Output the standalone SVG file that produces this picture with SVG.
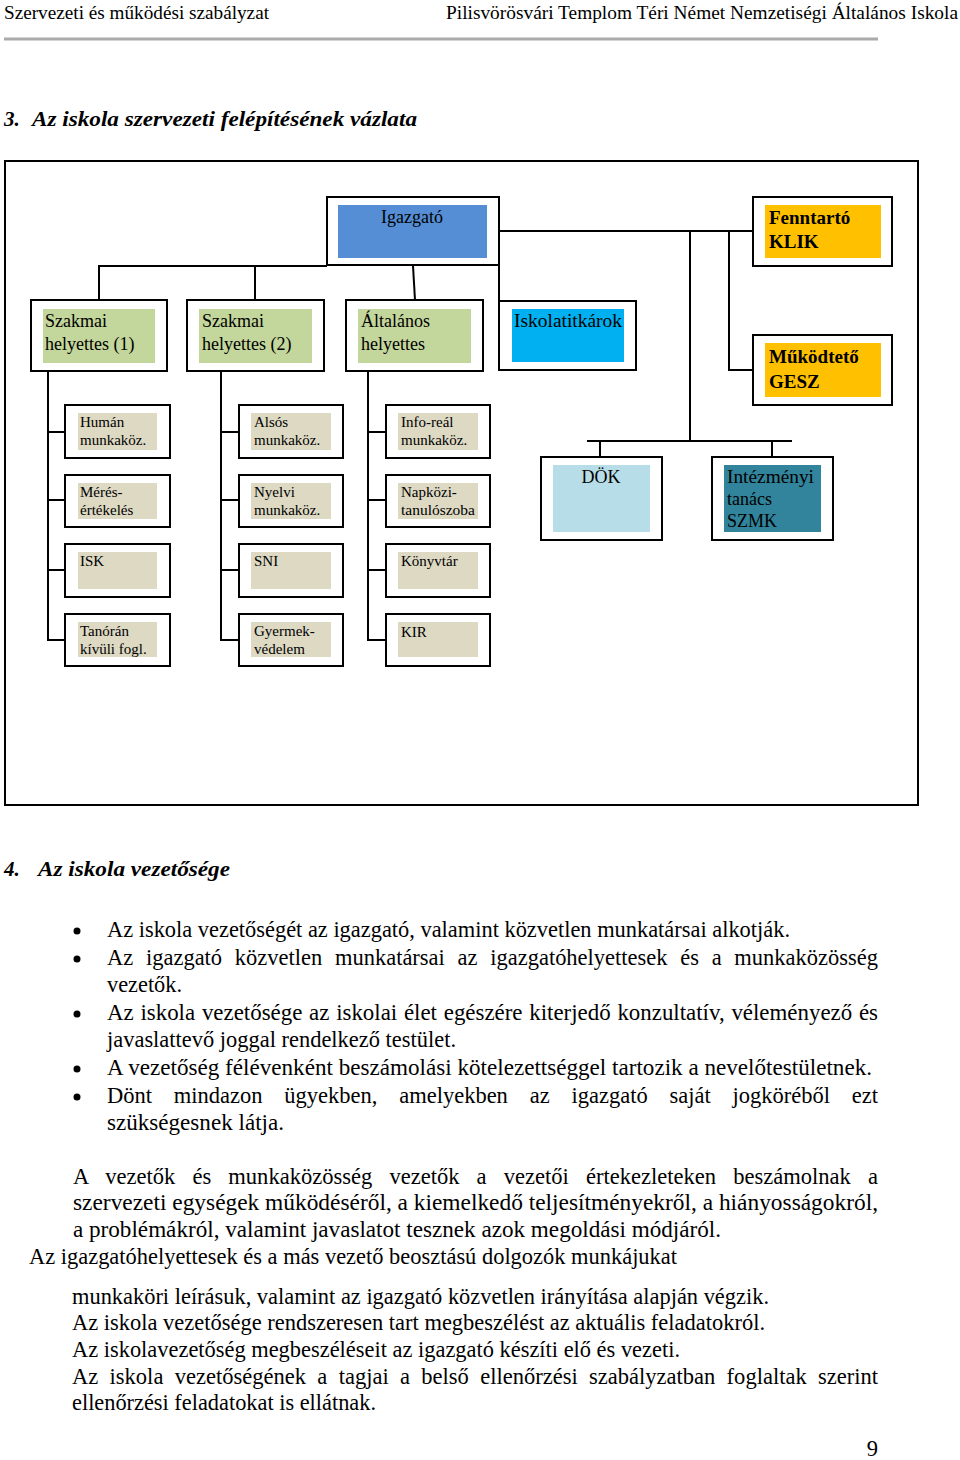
<svg xmlns="http://www.w3.org/2000/svg" width="960" height="1460" viewBox="0 0 960 1460">
<style>
text{font-family:"Liberation Serif","Times New Roman",serif;fill:#000}
.hd{font-size:18px}
.h1{font-size:21px;font-weight:bold;font-style:italic}
.bx{fill:#fff;stroke:#000;stroke-width:2}
.lb{font-size:18px}
.lbb{font-size:19px;font-weight:bold}
.sm{font-size:15px}
.body{font-size:22.5px}
.ln{fill:none;stroke:#000;stroke-width:2}
.sub{fill:#DDD9C3}
.grn{fill:#C3D69B}
.org{fill:#FFC000}
</style>
<rect width="960" height="1460" fill="#fff"/>
<g id="header">
<text class="hd" x="4" y="19" textLength="265" lengthAdjust="spacingAndGlyphs">Szervezeti és működési szabályzat</text>
<text class="hd" x="446" y="19" textLength="512" lengthAdjust="spacingAndGlyphs">Pilisvörösvári Templom Téri Német Nemzetiségi Általános Iskola</text>
<line x1="4" y1="39" x2="878" y2="39" stroke="#AAAAAA" stroke-width="3"/>
</g>
<g id="title3">
<text class="h1" x="4" y="126">3.</text>
<text class="h1" x="32" y="126" textLength="385" lengthAdjust="spacingAndGlyphs">Az iskola szervezeti felépítésének vázlata</text>
</g>
<rect id="frame" x="5" y="161" width="913" height="644" fill="none" stroke="#000" stroke-width="2"/>
<g id="connectors">
<polyline class="ln" points="499,231 753,231"/>
<polyline class="ln" points="690,231 690,441"/>
<polyline class="ln" points="729,231 729,370 753,370"/>
<polyline class="ln" points="587,441 792,441"/>
<polyline class="ln" points="600,441 600,457"/>
<polyline class="ln" points="772,441 772,457"/>
<polyline class="ln" points="99,300 99,266 327,266"/>
<polyline class="ln" points="255,266 255,300"/>
<polyline class="ln" points="413,266 415,300"/>
<polyline class="ln" points="499,265 499,301"/>
<polyline class="ln" points="48,371 48,640 65,640"/>
<polyline class="ln" points="48,432 65,432"/>
<polyline class="ln" points="48,500 65,500"/>
<polyline class="ln" points="48,570 65,570"/>
<polyline class="ln" points="221,371 221,640 239,640"/>
<polyline class="ln" points="221,432 239,432"/>
<polyline class="ln" points="221,500 239,500"/>
<polyline class="ln" points="221,570 239,570"/>
<polyline class="ln" points="368,371 368,640 386,640"/>
<polyline class="ln" points="368,432 386,432"/>
<polyline class="ln" points="368,500 386,500"/>
<polyline class="ln" points="368,570 386,570"/>
</g>
<g id="igazgato">
<rect class="bx" x="327" y="197" width="172" height="68"/>
<rect x="338" y="205" width="149" height="53" fill="#558ED5"/>
<text class="lb" x="412" y="223" text-anchor="middle">Igazgató</text>
</g>
<g id="fenntarto">
<rect class="bx" x="753" y="197" width="139" height="69"/>
<rect class="org" x="765" y="205" width="116" height="53"/>
<text class="lbb" x="769" y="224">Fenntartó</text>
<text class="lbb" x="769" y="248">KLIK</text>
</g>
<g id="mukodteto">
<rect class="bx" x="753" y="335" width="139" height="70"/>
<rect class="org" x="765" y="343" width="116" height="54"/>
<text class="lbb" x="769" y="363">Működtető</text>
<text class="lbb" x="769" y="388">GESZ</text>
</g>
<g id="szakmai1">
<rect class="bx" x="31" y="300" width="136" height="71"/>
<rect class="grn" x="43" y="309" width="112" height="54"/>
<text class="lb" x="45" y="327">Szakmai</text>
<text class="lb" x="45" y="350">helyettes (1)</text>
</g>
<g id="szakmai2">
<rect class="bx" x="187" y="300" width="137" height="71"/>
<rect class="grn" x="199" y="309" width="113" height="54"/>
<text class="lb" x="202" y="327">Szakmai</text>
<text class="lb" x="202" y="350">helyettes (2)</text>
</g>
<g id="altalanos">
<rect class="bx" x="346" y="300" width="137" height="71"/>
<rect class="grn" x="358" y="309" width="113" height="54"/>
<text class="lb" x="361" y="327">Általános</text>
<text class="lb" x="361" y="350">helyettes</text>
</g>
<g id="iskolatitkarok">
<rect class="bx" x="499" y="301" width="137" height="69"/>
<rect x="512" y="309" width="112" height="53" fill="#00B0F0"/>
<text class="lb" x="514" y="327" textLength="108" lengthAdjust="spacingAndGlyphs">Iskolatitkárok</text>
</g>
<g id="human">
<rect class="bx" x="65" y="405" width="105" height="53"/>
<rect class="sub" x="78" y="413" width="79" height="37"/>
<text class="sm" x="80" y="427">Humán</text>
<text class="sm" x="80" y="445">munkaköz.</text>
</g>
<g id="meres">
<rect class="bx" x="65" y="475" width="105" height="52"/>
<rect class="sub" x="78" y="483" width="79" height="36"/>
<text class="sm" x="80" y="497">Mérés-</text>
<text class="sm" x="80" y="515">értékelés</text>
</g>
<g id="isk">
<rect class="bx" x="65" y="544" width="105" height="53"/>
<rect class="sub" x="78" y="552" width="79" height="37"/>
<text class="sm" x="80" y="566">ISK</text>
</g>
<g id="tanoran">
<rect class="bx" x="65" y="614" width="105" height="52"/>
<rect class="sub" x="78" y="622" width="79" height="35"/>
<text class="sm" x="80" y="636">Tanórán</text>
<text class="sm" x="80" y="654">kívüli fogl.</text>
</g>
<g id="alsos">
<rect class="bx" x="239" y="405" width="104" height="53"/>
<rect class="sub" x="251" y="413" width="80" height="37"/>
<text class="sm" x="254" y="427">Alsós</text>
<text class="sm" x="254" y="445">munkaköz.</text>
</g>
<g id="nyelvi">
<rect class="bx" x="239" y="475" width="104" height="52"/>
<rect class="sub" x="251" y="483" width="80" height="36"/>
<text class="sm" x="254" y="497">Nyelvi</text>
<text class="sm" x="254" y="515">munkaköz.</text>
</g>
<g id="sni">
<rect class="bx" x="239" y="544" width="104" height="53"/>
<rect class="sub" x="251" y="552" width="80" height="37"/>
<text class="sm" x="254" y="566">SNI</text>
</g>
<g id="gyermek">
<rect class="bx" x="239" y="614" width="104" height="52"/>
<rect class="sub" x="251" y="622" width="80" height="35"/>
<text class="sm" x="254" y="636">Gyermek-</text>
<text class="sm" x="254" y="654">védelem</text>
</g>
<g id="inforeal">
<rect class="bx" x="386" y="405" width="104" height="53"/>
<rect class="sub" x="398" y="413" width="80" height="37"/>
<text class="sm" x="401" y="427">Info-reál</text>
<text class="sm" x="401" y="445">munkaköz.</text>
</g>
<g id="napkozi">
<rect class="bx" x="386" y="475" width="104" height="52"/>
<rect class="sub" x="398" y="483" width="80" height="36"/>
<text class="sm" x="401" y="497">Napközi-</text>
<text class="sm" x="401" y="515" textLength="74" lengthAdjust="spacingAndGlyphs">tanulószoba</text>
</g>
<g id="konyvtar">
<rect class="bx" x="386" y="544" width="104" height="53"/>
<rect class="sub" x="398" y="552" width="80" height="37"/>
<text class="sm" x="401" y="566">Könyvtár</text>
</g>
<g id="kir">
<rect class="bx" x="386" y="614" width="104" height="52"/>
<rect class="sub" x="398" y="622" width="80" height="35"/>
<text class="sm" x="401" y="637">KIR</text>
</g>
<g id="dok">
<rect class="bx" x="541" y="457" width="121" height="83"/>
<rect x="553" y="465" width="97" height="67" fill="#B7DDE8"/>
<text class="lb" x="601" y="483" text-anchor="middle">DÖK</text>
</g>
<g id="intezmenyi">
<rect class="bx" x="712" y="457" width="121" height="83"/>
<rect x="724" y="465" width="97" height="67" fill="#31849B"/>
<text class="lb" x="727" y="483" textLength="87" lengthAdjust="spacingAndGlyphs">Intézményi</text>
<text class="lb" x="727" y="505">tanács</text>
<text class="lb" x="727" y="527">SZMK</text>
</g>
<g id="section4">
<text class="h1" x="4" y="876">4.</text>
<text class="h1" x="38" y="876" textLength="192" lengthAdjust="spacingAndGlyphs">Az iskola vezetősége</text>
<g fill="#000">
<circle cx="77" cy="931" r="3.5"/>
<circle cx="77" cy="959" r="3.5"/>
<circle cx="77" cy="1014" r="3.5"/>
<circle cx="77" cy="1069" r="3.5"/>
<circle cx="77" cy="1097" r="3.5"/>
</g>
<text class="body" x="107" y="937" textLength="683" lengthAdjust="spacingAndGlyphs">Az iskola vezetőségét az igazgató, valamint közvetlen munkatársai alkotják.</text>
<text class="body" x="107" y="965" word-spacing="7.1" textLength="771" lengthAdjust="spacingAndGlyphs">Az igazgató közvetlen munkatársai az igazgatóhelyettesek és a munkaközösség</text>
<text class="body" x="107" y="992" textLength="75" lengthAdjust="spacingAndGlyphs">vezetők.</text>
<text class="body" x="107" y="1020" word-spacing="1" textLength="771" lengthAdjust="spacingAndGlyphs">Az iskola vezetősége az iskolai élet egészére kiterjedő konzultatív, véleményező és</text>
<text class="body" x="107" y="1047" textLength="349" lengthAdjust="spacingAndGlyphs">javaslattevő joggal rendelkező testület.</text>
<text class="body" x="107" y="1075" textLength="765" lengthAdjust="spacingAndGlyphs">A vezetőség félévenként beszámolási kötelezettséggel tartozik a nevelőtestületnek.</text>
<text class="body" x="107" y="1103" word-spacing="16.2" textLength="771" lengthAdjust="spacingAndGlyphs">Dönt mindazon ügyekben, amelyekben az igazgató saját jogköréből ezt</text>
<text class="body" x="107" y="1130" textLength="177" lengthAdjust="spacingAndGlyphs">szükségesnek látja.</text>
<text class="body" x="73" y="1184" word-spacing="11.5" textLength="805" lengthAdjust="spacingAndGlyphs">A vezetők és munkaközösség vezetők a vezetői értekezleteken beszámolnak a</text>
<text class="body" x="73" y="1210" textLength="805" lengthAdjust="spacingAndGlyphs">szervezeti egységek működéséről, a kiemelkedő teljesítményekről, a hiányosságokról,</text>
<text class="body" x="73" y="1237" textLength="648" lengthAdjust="spacingAndGlyphs">a problémákról, valamint javaslatot tesznek azok megoldási módjáról.</text>
<text class="body" x="29" y="1264" textLength="648" lengthAdjust="spacingAndGlyphs">Az igazgatóhelyettesek és a más vezető beosztású dolgozók munkájukat</text>
<text class="body" x="72" y="1304" textLength="697" lengthAdjust="spacingAndGlyphs">munkaköri leírásuk, valamint az igazgató közvetlen irányítása alapján végzik.</text>
<text class="body" x="72" y="1330" textLength="693" lengthAdjust="spacingAndGlyphs">Az iskola vezetősége rendszeresen tart megbeszélést az aktuális feladatokról.</text>
<text class="body" x="72" y="1357" textLength="608" lengthAdjust="spacingAndGlyphs">Az iskolavezetőség megbeszéléseit az igazgató készíti elő és vezeti.</text>
<text class="body" x="72" y="1384" word-spacing="5.7" textLength="806" lengthAdjust="spacingAndGlyphs">Az iskola vezetőségének a tagjai a belső ellenőrzési szabályzatban foglaltak szerint</text>
<text class="body" x="72" y="1410" textLength="304" lengthAdjust="spacingAndGlyphs">ellenőrzési feladatokat is ellátnak.</text>
<text class="body" x="878" y="1456" text-anchor="end">9</text>
</g>
</svg>
